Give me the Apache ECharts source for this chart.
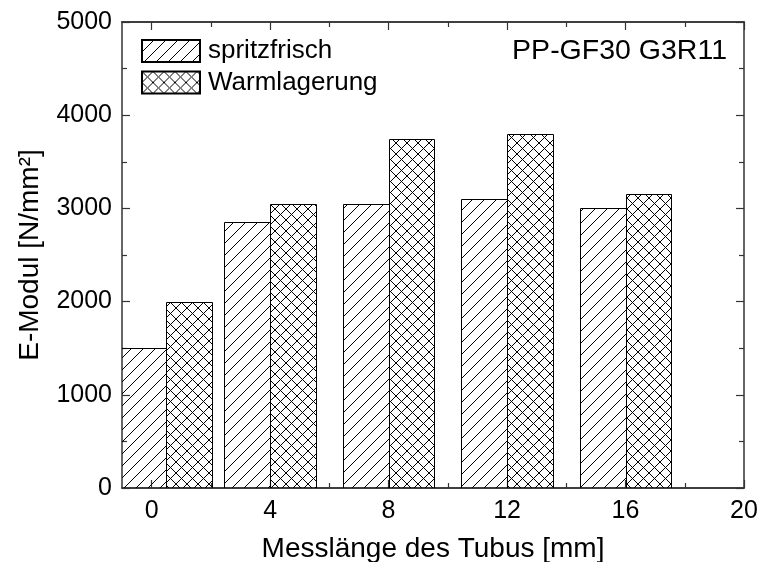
<!DOCTYPE html>
<html>
<head>
<meta charset="utf-8">
<script src="https://cdn.jsdelivr.net/npm/echarts@6/dist/echarts.min.js"></script>
<style>
  html, body { margin: 0; padding: 0; background: #fff; }
  #chart { width: 762px; height: 562px; }
</style>
</head>
<body>
<div id="chart"></div>
<script>
// Measuring positions along the tube [mm] and the moduli measured there [N/mm²]
const positions = [0.5, 4, 8, 12, 16];
const spritzfrisch = [1500, 2850, 3050, 3100, 3000];
const warmlagerung = [2000, 3050, 3750, 3800, 3150];
const xTickLabels = [0, 4, 8, 12, 16, 20];
const xMinorTicks = [2, 6, 10, 14, 18];
const seriesNames = ['spritzfrisch', 'Warmlagerung'];

const FONT = 'Liberation Sans, Arial, sans-serif';
const AXIS_COLOR = '#333';
const BAR_W = 1.55; // bar width in axis units

// Hatch tiles: single diagonal for the fresh samples, cross-hatch for the aged ones
function hatchTile(period, cross) {
  const c = document.createElement('canvas');
  c.width = period; c.height = period;
  const g = c.getContext('2d');
  g.strokeStyle = '#000';
  g.lineWidth = 1;
  const diag = (x0, y0, x1, y1) => { g.beginPath(); g.moveTo(x0, y0); g.lineTo(x1, y1); g.stroke(); };
  const p = period;
  // "/" lines
  diag(-1, p + 1, p + 1, -1);
  diag(-1, 1, 1, -1);
  diag(p - 1, p + 1, p + 1, p - 1);
  if (cross) {
    // "\" lines
    diag(-1, -1, p + 1, p + 1);
    diag(p - 1, -1, p + 1, 1);
    diag(-1, p - 1, 1, p + 1);
  }
  return { image: c, repeat: 'repeat' };
}
const fills = [hatchTile(12, false), hatchTile(11, true)];

function barSeries(idx, values) {
  return {
    name: seriesNames[idx],
    type: 'custom',
    xAxisIndex: 0,
    yAxisIndex: 0,
    clip: true,
    itemStyle: { color: fills[idx], borderColor: '#000', borderWidth: 1 },
    data: positions.map((p, i) => [p, values[i]]),
    encode: { x: 0, y: 1 },
    renderItem: function (params, api) {
      const x = api.value(0);
      const v = api.value(1);
      const x0 = idx === 0 ? x - BAR_W : x;
      const x1 = idx === 0 ? x : x + BAR_W;
      const a = api.coord([x0, v]);
      const b = api.coord([x1, 0]);
      return {
        type: 'rect',
        shape: { x: Math.round(a[0]) + 0.5, y: Math.round(a[1]) + 0.5,
                 width: Math.round(b[0]) - Math.round(a[0]),
                 height: Math.round(b[1]) - Math.round(a[1]) },
        style: { fill: fills[idx], stroke: '#000', lineWidth: 1 }
      };
    }
  };
}

function xAxis(position, ticks, len, showLabel, name) {
  return {
    type: 'value',
    position: position,
    min: -1,
    max: 20,
    name: name || '',
    nameLocation: 'middle',
    nameGap: 47,
    nameTextStyle: { fontFamily: FONT, fontSize: 28, color: '#000' },
    axisLine: { show: true, onZero: false, lineStyle: { color: AXIS_COLOR, width: 1.5 } },
    axisTick: { show: true, inside: true, length: len, customValues: ticks,
                lineStyle: { color: AXIS_COLOR, width: 1.2 } },
    axisLabel: { show: showLabel, customValues: xTickLabels, margin: 11,
                 fontFamily: FONT, fontSize: 25, color: '#000' },
    splitLine: { show: false }
  };
}

function yAxis(position, showLabel, name) {
  return {
    type: 'value',
    position: position,
    min: 0,
    max: 5000,
    interval: 1000,
    name: name || '',
    nameLocation: 'middle',
    nameGap: 78,
    nameRotate: 90,
    nameTextStyle: { fontFamily: FONT, fontSize: 28, color: '#000' },
    axisLine: { show: true, onZero: false, lineStyle: { color: AXIS_COLOR, width: 1.5 } },
    axisTick: { show: true, inside: true, length: 8, lineStyle: { color: AXIS_COLOR, width: 1.2 } },
    minorTick: { show: true, splitNumber: 2, length: 5, lineStyle: { color: AXIS_COLOR, width: 1.2 } },
    axisLabel: { show: showLabel, margin: 10, fontFamily: FONT, fontSize: 25, color: '#000',
                 formatter: v => String(v) },
    splitLine: { show: false },
    minorSplitLine: { show: false }
  };
}

const chart = echarts.init(document.getElementById('chart'), null, { renderer: 'canvas' });
chart.setOption({
  animation: false,
  backgroundColor: '#fff',
  grid: { left: 122, right: 18, top: 22, bottom: 74, outerBoundsMode: 'none', containLabel: false },
  title: {
    text: 'PP-GF30 G3R11',
    right: 30,
    top: 32,
    textStyle: { fontFamily: FONT, fontSize: 28.5, fontWeight: 'normal', color: '#000' }
  },
  legend: {
    data: seriesNames,
    orient: 'vertical',
    left: 136,
    top: 33,
    itemWidth: 58,
    itemHeight: 22,
    itemGap: 5.5,
    icon: 'rect',
    textStyle: { fontFamily: FONT, fontSize: 26, lineHeight: 22, color: '#000', padding: [0, 0, 0, 3] },
    selectedMode: false
  },
  xAxis: [
    xAxis('bottom', xTickLabels, 8, true, 'Messlänge des Tubus [mm]'),
    xAxis('bottom', xMinorTicks, 5, false),
    xAxis('top', xTickLabels, 8, false),
    xAxis('top', xMinorTicks, 5, false)
  ],
  yAxis: [
    yAxis('left', true, 'E-Modul [N/mm²]'),
    yAxis('right', false)
  ],
  series: [barSeries(0, spritzfrisch), barSeries(1, warmlagerung)]
});
</script>
</body>
</html>
